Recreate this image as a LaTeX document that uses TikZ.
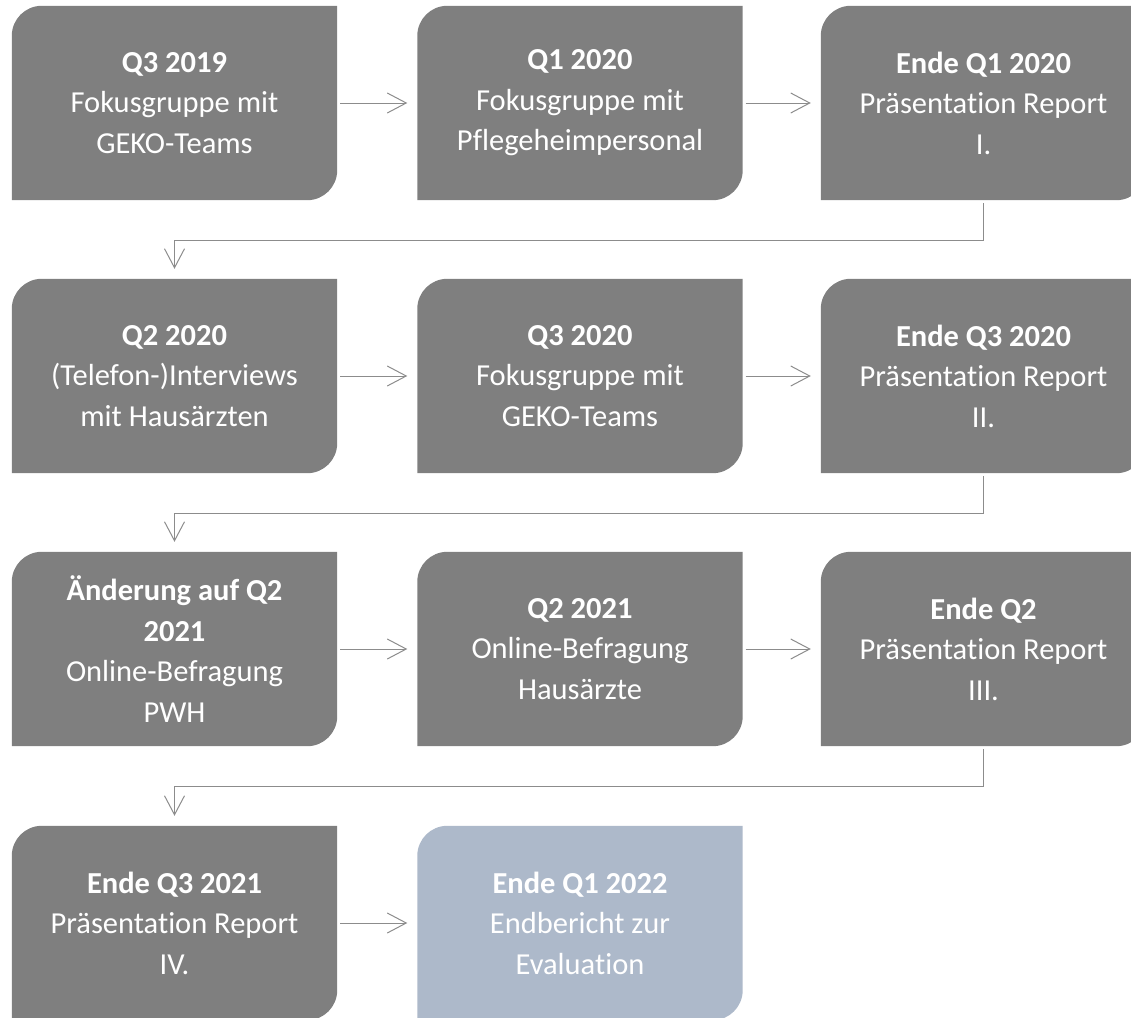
\documentclass[tikz,border=0pt]{standalone}
\usepackage{fontspec}
\setmainfont[Ligatures=NoCommon]{Carlito}
\usetikzlibrary{arrows.meta,backgrounds}
\definecolor{boxgray}{HTML}{7F7F7F}
\definecolor{boxblue}{HTML}{ADB9CA}
\definecolor{linegray}{HTML}{8C8C8C}
\tikzset{
  x=1pt,y=1pt,
  stagebox/.style={rectangle,minimum width=325pt,minimum height=194pt,inner sep=0pt,
    text=white,align=center,font=\fontsize{30.5}{40.5}\selectfont},
  conn/.style={draw=linegray,line width=1pt,-{Straight Barb[length=19pt,width=20pt,line width=1pt]},
    shorten <=3pt,shorten >=10pt},
}
\newcommand\stagefill[2]{%
  \fill[#2] (#1.south west) -- ([yshift=-30pt]#1.north west) arc (180:90:30pt)
    -- (#1.north east) -- ([yshift=30pt]#1.south east) arc (0:-90:30pt) -- cycle;}
\begin{document}
\begin{tikzpicture}
\useasboundingbox (0,0) rectangle (1131,-1017);
\clip (0,0) rectangle (1131,-1017);
\node[stagebox] (a) at (174.5,-103) {\textbf{Q3 2019}\\Fokusgruppe mit\\GEKO-Teams};
\node[stagebox] (b) at (580,-103) {\textbf{Q1 2020}\\Fokusgruppe mit\\Pflegeheimpersonal};
\node[stagebox] (c) at (983.5,-103) {\textbf{Ende Q1 2020}\\Präsentation Report\\I.};
\node[stagebox] (d) at (174.5,-376) {\textbf{Q2 2020}\\(Telefon-)Interviews\\mit Hausärzten};
\node[stagebox] (e) at (580,-376) {\textbf{Q3 2020}\\Fokusgruppe mit\\GEKO-Teams};
\node[stagebox] (f) at (983.5,-376) {\textbf{Ende Q3 2020}\\Präsentation Report\\II.};
\node[stagebox] (g) at (174.5,-649) {\textbf{Änderung auf Q2}\\\textbf{2021}\\Online-Befragung\\PWH};
\node[stagebox] (h) at (580,-649) {\textbf{Q2 2021}\\Online-Befragung\\Hausärzte};
\node[stagebox] (i) at (983.5,-649) {\textbf{Ende Q2}\\Präsentation Report\\III.};
\node[stagebox] (j) at (174.5,-923) {\textbf{Ende Q3 2021}\\Präsentation Report\\IV.};
\node[stagebox] (k) at (580,-923) {\textbf{Ende Q1 2022}\\Endbericht zur\\Evaluation};
\begin{scope}[on background layer]
\foreach \n in {a,b,c,d,e,f,g,h,i,j}{\stagefill{\n}{boxgray}}
\stagefill{k}{boxblue}
\end{scope}
\draw[conn] (a) -- (b);
\draw[conn] (b) -- (c);
\draw[conn] (d) -- (e);
\draw[conn] (e) -- (f);
\draw[conn] (g) -- (h);
\draw[conn] (h) -- (i);
\draw[conn] (j) -- (k);
\draw[conn] (c.south) -- ++(0,-40) -| (d.north);
\draw[conn] (f.south) -- ++(0,-40) -| (g.north);
\draw[conn] (i.south) -- ++(0,-40) -| (j.north);
\end{tikzpicture}
\end{document}
